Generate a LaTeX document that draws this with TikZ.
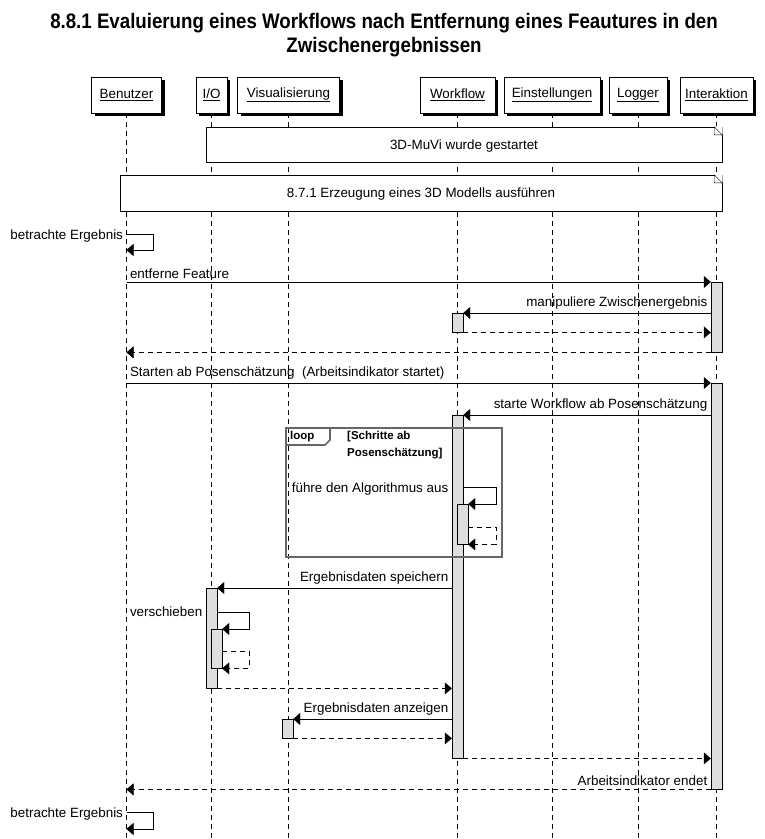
\documentclass[tikz,border=0pt]{standalone}
\usepackage{fontspec}
\setmainfont{Liberation Sans}
\newfontfamily\titlefont[FakeStretch=0.89]{Liberation Sans}
\usetikzlibrary{arrows.meta,shadows}

\begin{document}
\begin{tikzpicture}[x=1pt,y=-1pt,
    font=\fontsize{13.4}{15}\selectfont,
    actor/.style={draw, fill=white, minimum height=36, inner sep=2,
      drop shadow={shadow xshift=3pt, shadow yshift=-3pt, fill=black, opacity=1}},
    note/.style={draw, fill=white, inner sep=0, text depth=0pt},
    lifeline/.style={dash pattern=on 5pt off 4pt},
    bar/.style={draw, fill=black!13, minimum width=11, inner sep=0, anchor=north},
    msg/.style={-{Triangle[length=7pt,width=12pt]}},
    ret/.style={msg, dash pattern=on 5pt off 4pt},
    frame/.style={draw=black!60, line width=1.6pt}]
    \useasboundingbox (0,0) rectangle (765,839);

    \node[font=\titlefont\bfseries\fontsize{21}{24}\selectfont, align=center] (title) at (384,35)
        {8.8.1 Evaluierung eines Workflows nach Entfernung eines Feautures in den\\Zwischenergebnissen};

    % Teilnehmer
    \node[actor, minimum width=70] (benutzer) at (126.5,95) {\underline{Benutzer}};
    \node[actor, minimum width=31] (io) at (211.5,95) {\underline{I/O}};
    \node[actor, minimum width=102] (visual) at (288.5,95) {\underline{Visualisierung}};
    \node[actor, minimum width=75] (workflow) at (457.5,95) {\underline{Workflow}};
    \node[actor, minimum width=96] (settings) at (552,95) {\underline{Einstellungen}};
    \node[actor, minimum width=58] (logger) at (638,95) {\underline{Logger}};
    \node[actor, minimum width=73] (interaction) at (716.5,95) {\underline{Interaktion}};

    \foreach \n in {benutzer,io,visual,workflow,settings,logger,interaction}
        \draw[lifeline] (\n.south) -- (\n |- 0,839);

    % Notizen
    \node[note, minimum width=516, minimum height=35] (started) at (464,144.5) {3D-MuVi wurde gestartet};
    \node[note, minimum width=602, minimum height=36] (model) at (421,193) {8.7.1 Erzeugung eines 3D Modells ausführen};
    \foreach \n in {started,model} {
        \fill[white] ([xshift=-8pt,yshift=0.5pt]\n.north east) -- ([xshift=0.5pt,yshift=0.5pt]\n.north east)
            -- ([xshift=0.5pt,yshift=-8pt]\n.north east) -- cycle;
        \draw ([xshift=-8pt]\n.north east) -- ++(0,8) -- ([yshift=-8pt]\n.north east) -- cycle;
    }

    % Aktivierungen
    \node[bar, minimum height=70] (ia1) at (716.5,282) {};
    \node[bar, minimum height=19] (wf1) at (457.5,313) {};
    \node[bar, minimum height=406] (ia2) at (716.5,383) {};
    \node[bar, minimum height=343] (wf2) at (457.5,415) {};
    \node[bar, minimum height=40] (wf3) at (462.5,504) {};
    \node[bar, minimum height=100] (io1) at (211.5,588) {};
    \node[bar, minimum height=39] (io2) at (216.5,629) {};
    \node[bar, minimum height=19] (vis1) at (287.5,719) {};

    % Nachrichten
    \node[left] (look1) at (benutzer |- 0,236) {betrachte Ergebnis};
    \draw[msg] (benutzer |- 0,234) -- ++(27,0) |- ++(-27,16);

    \draw[msg] (benutzer |- ia1.north) -- node[pos=0, above right] {entferne Feature} (ia1.north west);
    \draw[msg] (ia1.west |- wf1.north) -- node[pos=0, above left] {manipuliere Zwischenergebnis} (wf1.north east);
    \draw[ret] (wf1.south east) -- (ia1.west |- wf1.south);
    \draw[ret] (ia1.south west) -- (benutzer |- ia1.south);

    \draw[msg] (benutzer |- ia2.north) -- node[pos=0, above right]
        {Starten ab Posenschätzung\ \ (Arbeitsindikator startet)} (ia2.north west);
    \draw[msg] (ia2.west |- wf2.north) -- node[pos=0, above left] {starte Workflow ab Posenschätzung} (wf2.north east);

    % loop
    \draw[frame] (286,428) rectangle (502,557);
    \draw[frame] (286,445) -- (325,445) -- (330,440) -- (330,428);
    \node[font=\bfseries\fontsize{11.5}{14}\selectfont, anchor=west, inner sep=0] (looptag) at (290,437) {loop};
    \node[font=\bfseries\fontsize{11.5}{17}\selectfont, anchor=north west, align=left, inner sep=0] (guard)
        at (347,431) {[Schritte ab\\Posenschätzung]};

    \node[left] (algo) at (wf2.west |- 0,489) {führe den Algorithmus aus};
    \draw[msg] (wf2.east |- 0,487) -- (496,487) |- (wf3.north east);
    \draw[ret] (wf3.east |- 0,527) -- (496,527) |- (wf3.south east);

    \draw[msg] (wf2.west |- io1.north) -- node[pos=0, above left] {Ergebnisdaten speichern} (io1.north east);
    \node[left] (shift) at (io1.west |- 0,612) {verschieben};
    \draw[msg] (io1.east |- 0,612) -- (249,612) |- (io2.north east);
    \draw[ret] (io2.east |- 0,651) -- (249,651) |- (io2.south east);
    \draw[ret] (io1.south east) -- (wf2.west |- io1.south);

    \draw[msg] (wf2.west |- vis1.north) -- node[pos=0, above left] {Ergebnisdaten anzeigen} (vis1.north east);
    \draw[ret] (vis1.south east) -- (wf2.west |- vis1.south);
    \draw[ret] (wf2.south east) -- (ia2.west |- wf2.south);
    \draw[ret] (ia2.south west) -- node[pos=0, above left] {Arbeitsindikator endet} (benutzer |- ia2.south);

    \node[left] (look2) at (benutzer |- 0,814) {betrachte Ergebnis};
    \draw[msg] (benutzer |- 0,812) -- ++(27,0) |- ++(-27,17);
\end{tikzpicture}
\end{document}
